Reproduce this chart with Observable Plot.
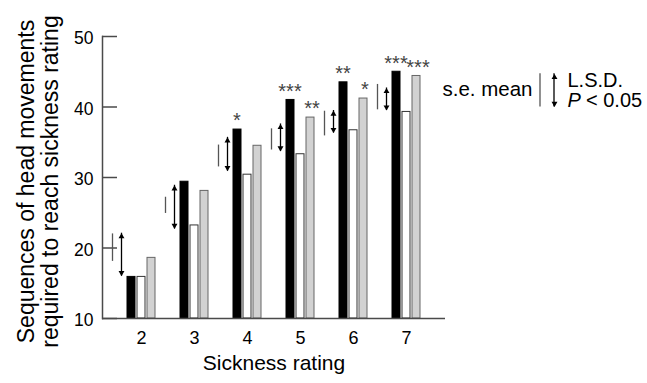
<!DOCTYPE html>
<html><head><meta charset="utf-8">
<script src="https://cdn.jsdelivr.net/npm/d3@7"></script>
<script src="https://cdn.jsdelivr.net/npm/@observablehq/plot@0.6"></script>
<style>body{margin:0;background:#fff} svg{display:block}</style>
</head><body><div id="chart"></div>
<script>
const ratings = [2, 3, 4, 5, 6, 7];
const blackValues = [15.9, 29.4, 36.8, 41.0, 43.5, 45.0];
const whiteValues = [15.9, 23.2, 30.4, 33.3, 36.7, 39.3];
const grayValues = [18.6, 28.1, 34.5, 38.5, 41.2, 44.4];
const blackStars = ["", "", "*", "***", "**", "***"];
const grayStars = ["", "", "", "**", "*", "***"];
const seLow = [18.1, 24.9, 31.5, 33.9, 35.9, 39.6];
const seHigh = [22.0, 27.2, 34.6, 36.9, 39.4, 43.2];
const lsdLow = [16.0, 22.7, 30.9, 33.7, 36.3, 39.5];
const lsdHigh = [22.1, 28.9, 35.7, 37.6, 39.5, 42.7];
const yTicks = [10, 20, 30, 40, 50];
const legendBar = [{low: 40.0, high: 44.7}];
const legendText = {se: "s.e. mean", lsd: "L.S.D.", p: "P", pRest: "< 0.05"};
const xLabel = "Sickness rating";
const yLabel = "Sequences of head movements\nrequired to reach sickness rating";

const rows = ratings.map((r, i) => ({
  rating: r, black: blackValues[i], white: whiteValues[i], gray: grayValues[i],
  bStar: blackStars[i], gStar: grayStars[i],
  seLow: seLow[i], seHigh: seHigh[i], lsdLow: lsdLow[i], lsdHigh: lsdHigh[i]
}));

const font = "Liberation Sans, Arial, Helvetica, sans-serif";
const W = 647, H = 383, mL = 102, mR = 202, mT = 36, mB = 65;
const frameW = W - mL - mR;
const frameCx = (mL + (W - mR)) / 2;
const legSeX = 540, legLsdX = 554, headR = 2.2;

const heads = (data, lowKey, highKey, dx, r) => [
  Plot.dot(data, {x: "rating", y: highKey, dx, dy: r * 1.56, symbol: "triangle", r, fill: "#000", stroke: "none"}),
  Plot.dot(data, {x: "rating", y: lowKey, dx, dy: -r * 1.56, symbol: "triangle", rotate: 180, r, fill: "#000", stroke: "none"})
];

const svg = Plot.plot({
  width: W, height: H,
  marginLeft: mL, marginRight: mR, marginTop: mT, marginBottom: mB,
  style: {fontFamily: font, fontSize: "17px", background: "#fff", color: "#000", overflow: "visible"},
  x: {type: "band", domain: ratings, paddingInner: 0.849, paddingOuter: 0.654, label: null},
  y: {domain: [10, 50], label: null},
  marks: [
    Plot.barY(rows, {x: "rating", y1: 10, y2: "black", dx: -10, fill: "#000", stroke: "#000"}),
    Plot.barY(rows, {x: "rating", y1: 10, y2: "white", dx: 0, fill: "#fff", stroke: "#333"}),
    Plot.barY(rows, {x: "rating", y1: 10, y2: "gray", dx: 10, fill: "#d2d2d2", stroke: "#666"}),
    Plot.ruleY([10], {stroke: "#4a4a4a", strokeWidth: 1.5}),
    Plot.frame({anchor: "left", stroke: "#4a4a4a", strokeWidth: 1.5}),
    Plot.tickY(yTicks, {y: d => d, insetRight: frameW - 15, stroke: "#4a4a4a", strokeWidth: 1.5}),
    Plot.axisY({ticks: yTicks, tickSize: 0, tickPadding: 9, dy: 2, fontSize: 17.5, label: null}),
    Plot.axisX({tickSize: 0, tickPadding: 13, fontSize: 18, label: null}),
    Plot.ruleX(rows, {x: "rating", y1: "seLow", y2: "seHigh", dx: -29, stroke: "#555", strokeWidth: 1.3}),
    Plot.ruleX(rows, {x: "rating", y1: "lsdLow", y2: "lsdHigh", dx: -20, stroke: "#000", strokeWidth: 1.3}),
    ...heads(rows, "lsdLow", "lsdHigh", -20, headR),
    Plot.text(rows, {x: "rating", y: "black", text: "bStar", dx: -10.5, dy: -2.2, lineAnchor: "bottom", fontSize: 20, fill: "#444", ariaLabel: "stars"}),
    Plot.text(rows, {x: "rating", y: "gray", text: "gStar", dx: 11.5, dy: -2.2, lineAnchor: "bottom", fontSize: 20, fill: "#444", ariaLabel: "stars"}),
    Plot.text([xLabel], {text: d => d, frameAnchor: "bottom", dy: 51.3, fontSize: 21}),
    Plot.text([yLabel], {text: d => d, frameAnchor: "left", textAnchor: "middle", rotate: -90, dx: -64.5, dy: 4, fontSize: 23, lineHeight: 1.04, lineAnchor: "middle"}),
    Plot.text([legendText.se], {text: d => d, frameAnchor: "right", y: 41.5, dx: 87, textAnchor: "end", lineAnchor: "bottom", fontSize: 20.5}),
    Plot.text([legendText.lsd], {text: d => d, frameAnchor: "right", y: 42.8, dx: 122, textAnchor: "start", lineAnchor: "bottom", fontSize: 20}),
    Plot.text([legendText.p], {text: d => d, frameAnchor: "right", y: 40.0, dx: 122, textAnchor: "start", lineAnchor: "bottom", fontSize: 20, fontStyle: "italic"}),
    Plot.text([legendText.pRest], {text: d => d, frameAnchor: "right", y: 40.0, dx: 140.5, textAnchor: "start", lineAnchor: "bottom", fontSize: 20}),
    Plot.dot(legendBar, {frameAnchor: "middle", y: "high", dx: legLsdX - frameCx, dy: headR * 1.56, symbol: "triangle", r: headR, fill: "#000", stroke: "none"}),
    Plot.dot(legendBar, {frameAnchor: "middle", y: "low", dx: legLsdX - frameCx, dy: -headR * 1.56, symbol: "triangle", rotate: 180, r: headR, fill: "#000", stroke: "none"})
  ]
});
d3.select(svg).selectAll('g[aria-label="stars"] text').style("letter-spacing", "1.1px");
// legend lines (s.e. mean and L.S.D.) positioned through the y scale
const ys = svg.scale("y");
const leg = d3.select(svg).append("g").attr("aria-label", "legend-lines");
legendBar.forEach(d => {
  leg.append("line").attr("x1", legSeX).attr("x2", legSeX)
    .attr("y1", ys.apply(d.low)).attr("y2", ys.apply(d.high))
    .attr("stroke", "#555").attr("stroke-width", 1.3);
  leg.append("line").attr("x1", legLsdX).attr("x2", legLsdX)
    .attr("y1", ys.apply(d.low)).attr("y2", ys.apply(d.high))
    .attr("stroke", "#000").attr("stroke-width", 1.3);
});
document.getElementById("chart").appendChild(svg);
</script>
</body></html>
